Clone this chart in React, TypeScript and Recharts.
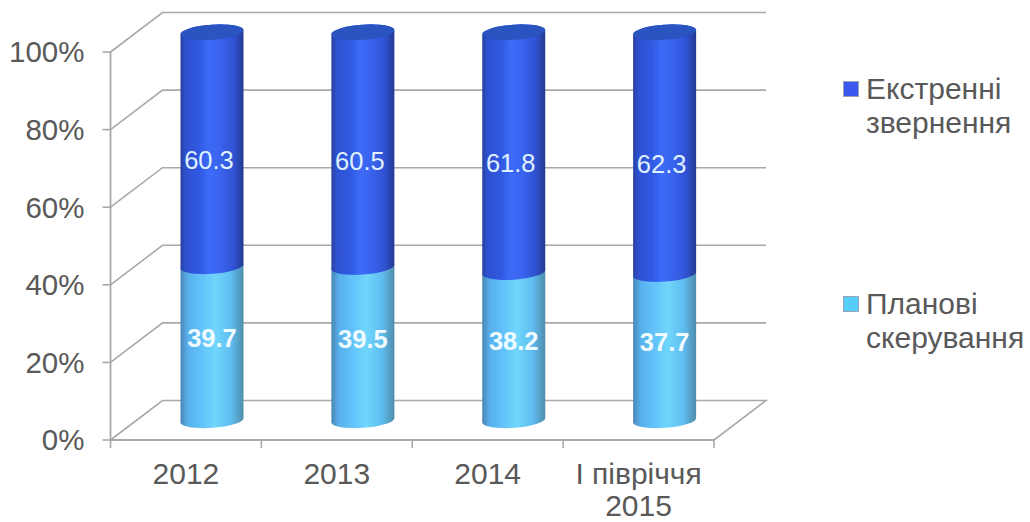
import { BarChart, Bar, XAxis, YAxis, CartesianGrid, Legend, LabelList } from "recharts"

const categories = ["2012", "2013", "2014", "І півріччя 2015"]
const planned = [39.7, 39.5, 38.2, 37.7]
const emergency = [60.3, 60.5, 61.8, 62.3]
const percentTicks = [0, 20, 40, 60, 80, 100]

const data = categories.map((name, i) => ({ name, planned: planned[i], emergency: emergency[i] }))

const WIDTH = 1030
const HEIGHT = 522
const X_AXIS_HEIGHT = 82
const MARGIN = { top: 52, right: 316, bottom: 0, left: 0 }
const AXIS_LEFT = 110.5
const AXIS_BOTTOM = HEIGHT - X_AXIS_HEIGHT
const HALF_BAND = (WIDTH - MARGIN.right - AXIS_LEFT) / categories.length / 2
const FONT = "'Liberation Sans', Arial, sans-serif"
const TEXT = "#595959"
const LINE = "#a9a9a9"

// depth of the fake 3D box, front edge to back wall
const DEPTH_X = 52
const DEPTH_Y = -39.5
const TILT = 2.2
const RY = 7.6

function WallLine(props: any) {
  const { x1, y1, x2, y2 } = props
  const isFloor = y1 > AXIS_BOTTOM - 1
  const pts = [`${x1},${y1}`, `${x1 + DEPTH_X},${y1 + DEPTH_Y}`, `${x2 + DEPTH_X},${y2 + DEPTH_Y}`]
  if (isFloor) pts.push(`${x2},${y2}`)
  return <polyline points={pts.join(" ")} fill="none" stroke={LINE} strokeWidth={1.6} />
}

function Cylinder(props: any) {
  const { x, y, width, height, gradient, cap } = props
  const rx = width / 2
  const left = x + DEPTH_X / 2
  const right = left + width
  const top = y + DEPTH_Y / 2
  const bottom = top + height
  const arc = `A${rx} ${RY} -4 0 0`
  const body = `M${left} ${top + TILT} L${left} ${bottom + TILT} ${arc} ${right} ${bottom - TILT} L${right} ${top - TILT} ${arc} ${left} ${top + TILT} Z`
  return (
    <g>
      <path d={body} fill={`url(#${gradient})`} />
      {cap && <ellipse cx={left + rx} cy={top} rx={rx} ry={RY} transform={`rotate(-4 ${left + rx} ${top})`} fill={cap} />}
    </g>
  )
}

function BarValue(props: any) {
  const { x, y, width, height, value, shift, nudge, bold } = props
  return (
    <text
      x={x + DEPTH_X / 2 + width / 2 + nudge}
      y={y + DEPTH_Y / 2 + height / 2 + shift}
      textAnchor="middle"
      dominantBaseline="central"
      fontFamily={FONT}
      fontSize={25.5}
      fontWeight={bold ? 700 : 400}
      fill={bold ? "#f0fbff" : "#dff0ff"}
    >
      {value}
    </text>
  )
}

function CategoryTick(props: any) {
  const { x, y, payload, index } = props
  const text: string = payload.value
  const cut = text.lastIndexOf(" ")
  const lines = cut > 0 ? [text.slice(0, cut), text.slice(cut + 1)] : [text]
  const last = index === categories.length - 1
  return (
    <g>
      <line x1={x - HALF_BAND} x2={x - HALF_BAND} y1={y - 8} y2={y} stroke={LINE} strokeWidth={1.6} />
      {last && <line x1={x + HALF_BAND} x2={x + HALF_BAND} y1={y - 8} y2={y} stroke={LINE} strokeWidth={1.6} />}
      {lines.map((line, i) => (
        <text key={line} x={x} y={y + 36 + i * 32} textAnchor="middle" fontFamily={FONT} fontSize={30} fill={TEXT}>
          {line}
        </text>
      ))}
    </g>
  )
}

function LegendBox({ payload }: any) {
  return (
    <div style={{ fontFamily: FONT, fontSize: 30, lineHeight: "34px", color: TEXT }}>
      {(payload || []).map((item: any, i: number) => (
        <div key={item.value} style={{ display: "flex", marginTop: i === 0 ? 0 : 147 }}>
          <span
            style={{
              width: 14,
              height: 14,
              marginTop: 9,
              marginRight: 7,
              flex: "none",
              background: item.color,
              border: "1px solid #9aa3b5",
            }}
          />
          <span>{item.value}</span>
        </div>
      ))}
    </div>
  )
}

export default function App() {
  return (
    <div style={{ position: "absolute", left: 0, top: 0, width: WIDTH, height: HEIGHT }}>
      <BarChart width={WIDTH} height={HEIGHT} data={data} margin={MARGIN} barSize={63}>
        <defs>
          <linearGradient id="blueBody" x1="0" x2="1" y1="0" y2="0">
            <stop offset="0" stopColor="#27419f" />
            <stop offset="0.08" stopColor="#2f50cf" />
            <stop offset="0.3" stopColor="#3059e2" />
            <stop offset="0.45" stopColor="#3d6af7" />
            <stop offset="0.62" stopColor="#3a64f0" />
            <stop offset="0.85" stopColor="#2f52d2" />
            <stop offset="1" stopColor="#25398f" />
          </linearGradient>
          <linearGradient id="skyBody" x1="0" x2="1" y1="0" y2="0">
            <stop offset="0" stopColor="#4a86b4" />
            <stop offset="0.12" stopColor="#58b0ec" />
            <stop offset="0.35" stopColor="#62c4fa" />
            <stop offset="0.55" stopColor="#70d6fb" />
            <stop offset="0.8" stopColor="#5fbdf0" />
            <stop offset="1" stopColor="#4f8dab" />
          </linearGradient>
        </defs>
        <CartesianGrid vertical={false} horizontal={(p: any) => <WallLine key={p.key} {...p} />} />
        <XAxis
          dataKey="name"
          height={X_AXIS_HEIGHT}
          interval={0}
          tickLine={false}
          tickSize={8}
          tickMargin={0}
          axisLine={{ stroke: LINE, strokeWidth: 1.8 }}
          tick={(p: any) => <CategoryTick {...p} />}
        />
        <YAxis
          width={AXIS_LEFT}
          domain={[0, 100]}
          ticks={percentTicks}
          tickFormatter={(v: number) => `${v}%`}
          tickSize={8}
          tickMargin={18}
          tickLine={{ stroke: LINE, strokeWidth: 1.6 }}
          axisLine={{ stroke: LINE, strokeWidth: 1.8 }}
          tick={{ fontFamily: FONT, fontSize: 29.5, fill: TEXT }}
        />
        <Legend
          layout="vertical"
          align="center"
          verticalAlign="middle"
          width={187}
          content={<LegendBox />}
          wrapperStyle={{ left: 843, top: 72 }}
        />
        <Bar
          dataKey="planned"
          name="Планові скерування"
          stackId="a"
          fill="#55cffa"
          isAnimationActive={false}
          shape={(p: any) => <Cylinder {...p} gradient="skyBody" />}
        >
          <LabelList dataKey="planned" content={(p: any) => <BarValue {...p} shift={-5} nudge={0} bold />} />
        </Bar>
        <Bar
          dataKey="emergency"
          name="Екстренні звернення"
          stackId="a"
          fill="#3d58ee"
          isAnimationActive={false}
          shape={(p: any) => <Cylinder {...p} gradient="blueBody" cap="#2a54bf" />}
        >
          <LabelList dataKey="emergency" content={(p: any) => <BarValue {...p} shift={11} nudge={-3} />} />
        </Bar>
      </BarChart>
    </div>
  )
}
